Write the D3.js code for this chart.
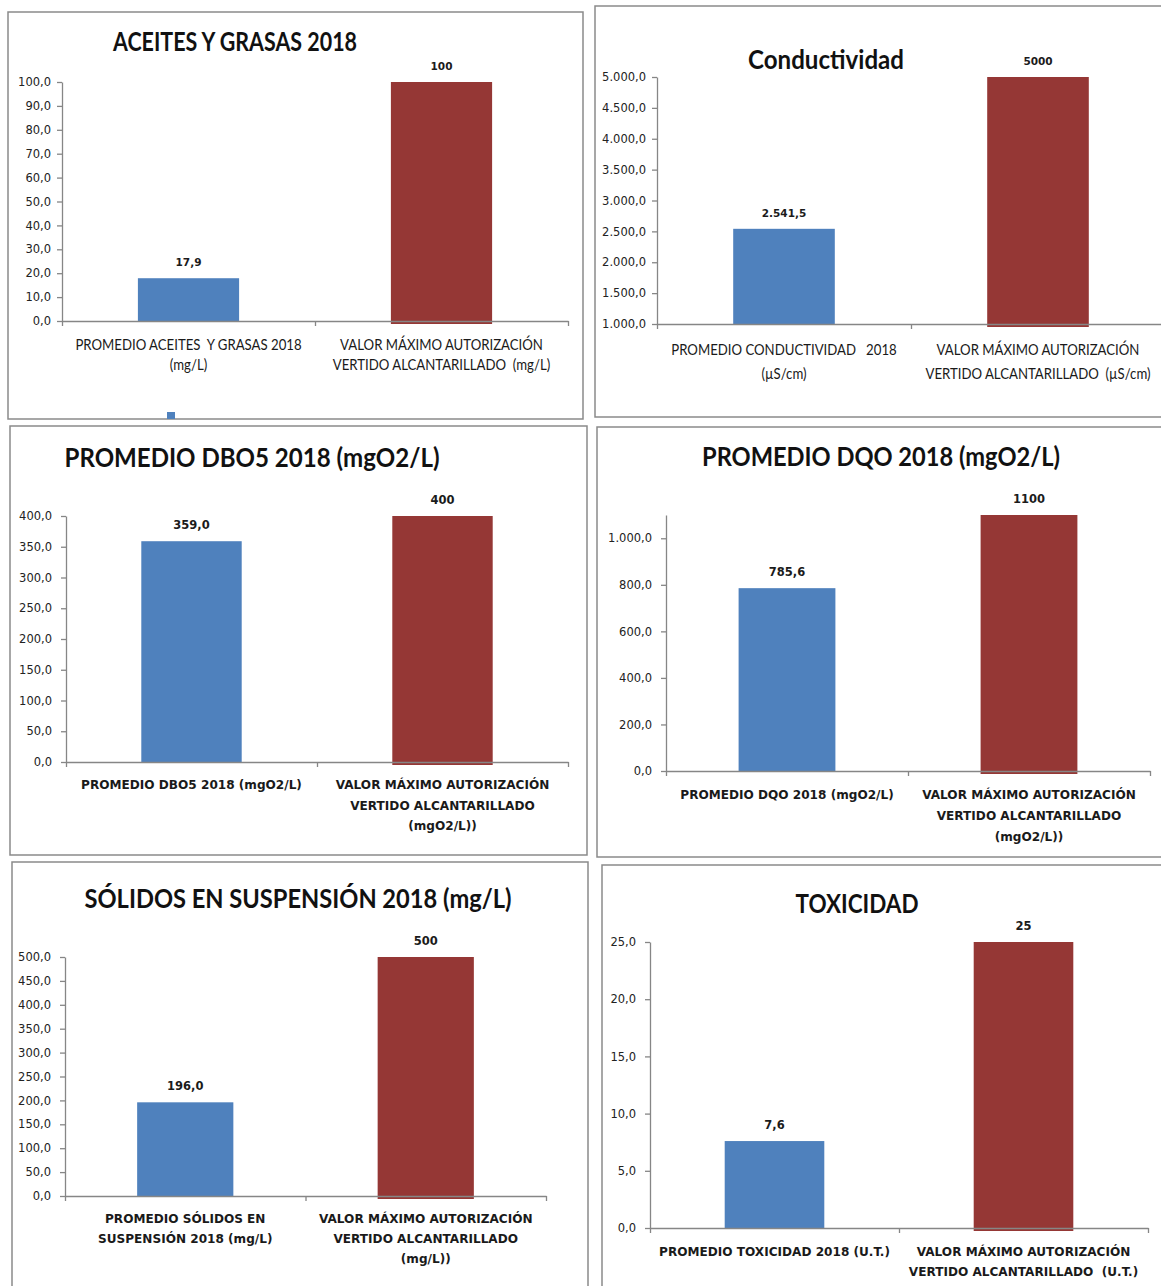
<!DOCTYPE html>
<html><head><meta charset="utf-8">
<script src="https://cdn.jsdelivr.net/npm/d3@7"></script>
<style>body{margin:0;background:#fff}svg{display:block}text{white-space:pre}</style>
</head><body>
<svg id="chart" width="1161" height="1286"></svg>
<script>
// ---------- DATA ----------
const chartTitles = ["ACEITES Y GRASAS 2018", "Conductividad", "PROMEDIO DBO5 2018 (mgO2/L)",
  "PROMEDIO DQO 2018 (mgO2/L)", "SÓLIDOS EN SUSPENSIÓN 2018 (mg/L)", "TOXICIDAD"];
const promedioCategory = [
  ["PROMEDIO ACEITES  Y GRASAS 2018", "(mg/L)"],
  ["PROMEDIO CONDUCTIVIDAD   2018", "(µS/cm)"],
  ["PROMEDIO DBO5 2018 (mgO2/L)"],
  ["PROMEDIO DQO 2018 (mgO2/L)"],
  ["PROMEDIO SÓLIDOS EN", "SUSPENSIÓN 2018 (mg/L)"],
  ["PROMEDIO TOXICIDAD 2018 (U.T.)"]];
const maximoCategory = [
  ["VALOR MÁXIMO AUTORIZACIÓN", "VERTIDO ALCANTARILLADO  (mg/L)"],
  ["VALOR MÁXIMO AUTORIZACIÓN", "VERTIDO ALCANTARILLADO  (µS/cm)"],
  ["VALOR MÁXIMO AUTORIZACIÓN", "VERTIDO ALCANTARILLADO", "(mgO2/L))"],
  ["VALOR MÁXIMO AUTORIZACIÓN", "VERTIDO ALCANTARILLADO", "(mgO2/L))"],
  ["VALOR MÁXIMO AUTORIZACIÓN", "VERTIDO ALCANTARILLADO", "(mg/L))"],
  ["VALOR MÁXIMO AUTORIZACIÓN", "VERTIDO ALCANTARILLADO  (U.T.)"]];
const promedioValues = [17.9, 2541.5, 359.0, 785.6, 196.0, 7.6];
const maximoValues = [100, 5000, 400, 1100, 500, 25];
const maximoLabels = ["100", "5000", "400", "1100", "500", "25"];
const yAxisMin = [0, 1000, 0, 0, 0, 0];
const yAxisMax = [100, 5000, 400, 1100, 500, 25];
const yTicks = [
  [0, 10, 20, 30, 40, 50, 60, 70, 80, 90, 100],
  [1000, 1500, 2000, 2500, 3000, 3500, 4000, 4500, 5000],
  [0, 50, 100, 150, 200, 250, 300, 350, 400],
  [0, 200, 400, 600, 800, 1000],
  [0, 50, 100, 150, 200, 250, 300, 350, 400, 450, 500],
  [0, 5, 10, 15, 20, 25]];

// ---------- LAYOUT / STYLE ----------
const colorPromedio = "#4F81BD", colorMaximo = "#953735", axisColor = "#868686", frameColor = "#8a8a8a";
const layout = [
  {box:[8,12,583,419],   plot:[62,568,82,321],    title:[235,51,244], cat:[350,20],   grp:"a"},
  {box:[595,6,1180,417], plot:[657,1165,77,324],  title:[826,69,156], cat:[355,24],   grp:"a"},
  {box:[10,426,587,855], plot:[66,568,516,762],   title:[252,467,375], cat:[789,20.5], grp:"b"},
  {box:[597,427,1180,857], plot:[666,1150,515,771], title:[881,466,358], cat:[799,21],  grp:"b"},
  {box:[12,862,588,1300], plot:[65,546,957,1196], title:[298,908,427], cat:[1223,20],  grp:"b"},
  {box:[602,865,1180,1300], plot:[650,1148,942,1228], title:[857,913,123], cat:[1256,20], grp:"b"}];
const style = {
  a: {catFont:"Lato", catWeight:400, catSize:15, catSx:0.88, valSize:10.5, pad:6},
  b: {catFont:"DejaVu Sans", catWeight:700, catSize:13, catSx:0.93, valSize:11.5, pad:9}};

const es = d3.formatLocale({decimal:",", thousands:".", grouping:[3], currency:["","€"]});
const fmt = es.format(",.1f");

const svg = d3.select("#chart");
svg.append("rect").attr("width",1161).attr("height",1286).attr("fill","#fff");

function label(g, x, y, str, o) {
  return g.append("text")
    .attr("transform", `translate(${x},${y}) scale(${o.sx||1},1)`)
    .attr("text-anchor", "middle")
    .attr("xml:space", "preserve")
    .attr("font-family", o.font).attr("font-weight", o.weight).attr("font-size", o.size)
    .attr("fill", o.fill || "#1b1b1b")
    .text(str);
}

chartTitles.forEach((title, i) => {
  const L = layout[i], S = style[L.grp];
  const g = svg.append("g");
  // frame
  g.append("rect").attr("x", L.box[0]).attr("y", L.box[1])
    .attr("width", L.box[2]-L.box[0]).attr("height", L.box[3]-L.box[1])
    .attr("fill", "#fff").attr("stroke", frameColor).attr("stroke-width", 1.5);

  const [x0, x1, yTop, yBot] = L.plot;
  const y = d3.scaleLinear().domain([yAxisMin[i], yAxisMax[i]]).range([yBot, yTop]);
  const x = d3.scaleBand().domain([0, 1]).range([x0, x1]).paddingInner(0.6).paddingOuter(0.3);
  const xl = d3.scaleLinear().domain([0, 2]).range([x0, x1]);

  // title
  g.append("text").attr("x", L.title[0]).attr("y", L.title[1])
    .attr("text-anchor", "middle").attr("font-family", "Lato").attr("font-weight", 700)
    .attr("font-size", 26).attr("fill", "#111")
    .attr("textLength", L.title[2]).attr("lengthAdjust", "spacingAndGlyphs")
    .text(title);

  // bars
  const vals = [promedioValues[i], maximoValues[i]];
  const cols = [colorPromedio, colorMaximo];
  g.selectAll("rect.bar").data(vals).join("rect").attr("class", "bar")
    .attr("x", (d, k) => x(k)).attr("width", x.bandwidth())
    .attr("y", d => y(d))
    .attr("height", (d, k) => y(yAxisMin[i]) - y(d) + (k === 1 ? 3 : 0))
    .attr("fill", (d, k) => cols[k]);

  // y axis
  const ya = g.append("g").attr("transform", `translate(${x0},0)`)
    .call(d3.axisLeft(y).tickValues(yTicks[i]).tickSize(5).tickSizeOuter(0)
      .tickPadding(S.pad).tickFormat(fmt));
  // x axis
  const xa = g.append("g").attr("transform", `translate(0,${yBot})`)
    .call(d3.axisBottom(xl).tickValues([0, 1, 2]).tickSize(5).tickSizeOuter(0).tickFormat(""));
  [ya, xa].forEach(a => {
    a.selectAll("path.domain").attr("stroke", axisColor).attr("stroke-width", 1.3);
    a.selectAll(".tick line").attr("stroke", axisColor).attr("stroke-width", 1.3);
  });
  ya.selectAll("text").attr("font-family", "DejaVu Sans").attr("font-size", 11.5).attr("fill", "#222");

  // value labels
  const valTexts = [fmt(promedioValues[i]), maximoLabels[i]];
  vals.forEach((v, k) => {
    label(g, x(k) + x.bandwidth()/2, y(v) - 12, valTexts[k],
      {font:"DejaVu Sans", weight:700, size:S.valSize});
  });

  // category labels
  [promedioCategory[i], maximoCategory[i]].forEach((lines, k) => {
    const cx = xl(k + 0.5);
    lines.forEach((ln, j) => {
      label(g, cx, L.cat[0] + j*L.cat[1], ln,
        {font:S.catFont, weight:S.catWeight, size:S.catSize, sx:S.catSx, fill:"#1a1a1a"});
    });
  });
});

// legend swatch remnant in first panel
svg.append("rect").attr("x", 167).attr("y", 412).attr("width", 8).attr("height", 7).attr("fill", colorPromedio);
</script>
</body></html>
